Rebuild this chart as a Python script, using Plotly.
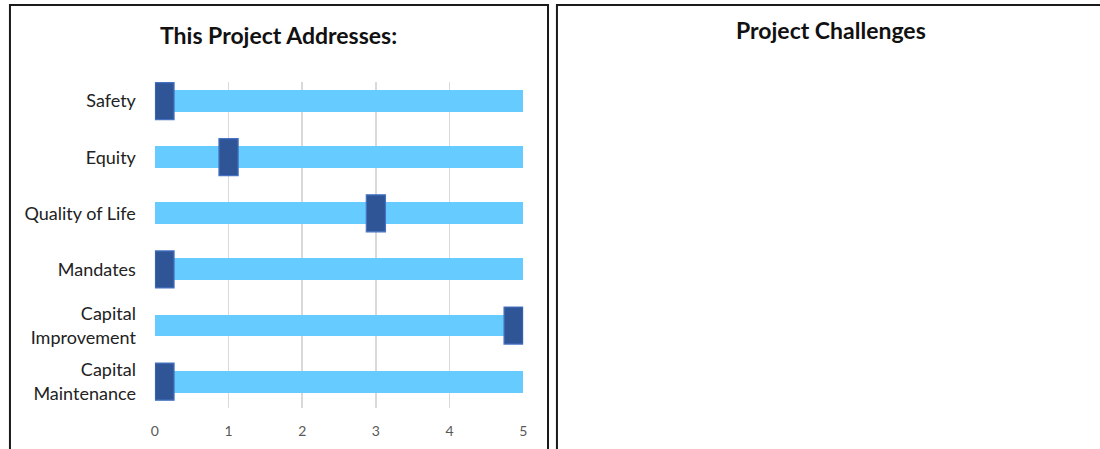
import plotly.graph_objects as go

categories = ["Safety", "Equity", "Quality of Life", "Mandates",
              "Capital<br>Improvement", "Capital<br>Maintenance"]
scale_max = [5, 5, 5, 5, 5, 5]
scores = [0.13, 1.0, 3.0, 0.13, 4.87, 0.13]
x_ticks = [0, 1, 2, 3, 4, 5]

MARK_W = 0.26  # marker width in value units (style)

W, H = 1100, 449


def px(x):
    return x / W


def py(y):
    return 1 - y / H


fig = go.Figure()

fig.add_trace(go.Bar(
    y=categories, x=scale_max, orientation="h",
    marker=dict(color="#66CCFF", line=dict(width=0)),
    width=0.39, showlegend=False, hoverinfo="skip"))

fig.add_trace(go.Bar(
    y=categories, x=[MARK_W] * len(scores),
    base=[s - MARK_W / 2 for s in scores], orientation="h",
    marker=dict(color="#2F5597", line=dict(color="#4472C4", width=1.2)),
    width=0.66, showlegend=False))

order = list(reversed(categories))

fig.update_layout(
    width=W, height=H, margin=dict(l=0, r=0, t=0, b=0),
    paper_bgcolor="white", plot_bgcolor="white",
    barmode="overlay", bargap=0,
    font=dict(family="Lato, Open Sans, sans-serif", color="#222222"),
    xaxis=dict(domain=[px(152), px(523)], range=[0, 5.0], tickvals=x_ticks,
               showgrid=True, gridcolor="#D9D9D9", gridwidth=1.5,
               zeroline=False, showline=False,
               tickfont=dict(size=14, color="#595959"),
               ticks="", ticklabelstandoff=13, fixedrange=True),
    yaxis=dict(domain=[py(408), py(82)], type="category",
               categoryorder="array", categoryarray=order,
               range=[-0.47, 5.34], showgrid=False, zeroline=False,
               showline=False, ticks="", ticklabelstandoff=18,
               tickfont=dict(size=18, color="#222222"), fixedrange=True),
    shapes=[
        dict(type="rect", xref="paper", yref="paper",
             x0=px(6), x1=px(548), y0=-0.2, y1=py(5),
             line=dict(color="#1a1a1a", width=2), layer="above"),
        dict(type="rect", xref="paper", yref="paper",
             x0=px(557), x1=1.2, y0=-0.2, y1=py(5),
             line=dict(color="#1a1a1a", width=2), layer="above"),
    ],
    annotations=[
        dict(text="<b>This Project Addresses:</b>", xref="paper", yref="paper",
             x=px(277), y=py(35), xanchor="center", yanchor="middle",
             showarrow=False, font=dict(size=23, color="#111111")),
        dict(text="<b>Project Challenges</b>", xref="paper", yref="paper",
             x=px(833), y=py(30), xanchor="center", yanchor="middle",
             showarrow=False, font=dict(size=23, color="#111111")),
    ],
)

fig.write_html("out.html",
               config={"displayModeBar": False, "staticPlot": True},
               post_script="document.body.style.margin='0';"
                           "document.body.style.overflow='hidden';")
